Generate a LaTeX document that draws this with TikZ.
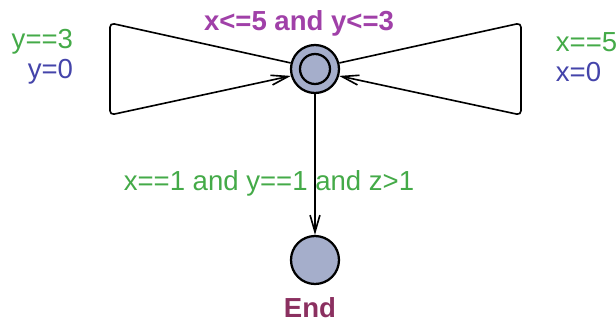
\documentclass[tikz,border=0pt]{standalone}
\usepackage{fontspec}
\setmainfont{Liberation Sans}
\usetikzlibrary{arrows.meta}
\definecolor{ink}{HTML}{000000}
\definecolor{guard}{HTML}{44AA48}
\definecolor{assign}{HTML}{4444AA}
\definecolor{inv}{HTML}{A040A8}
\definecolor{lname}{HTML}{8B3060}
\definecolor{loc}{HTML}{A5AECB}

\begin{document}
\begin{tikzpicture}[font=\fontsize{19.6}{22}\selectfont,>={Straight Barb[length=12pt,width=7pt]},
  location/.style={circle,draw=ink,line width=1.6pt,fill=loc,minimum size=1.2cm,inner sep=0pt},
  edge/.style={->,ink,line width=1.15pt,rounded corners=3pt}]
  \useasboundingbox (-7.875,1.725) rectangle (7.525,-6.35);
  % locations
  \node[location] (start) at (0,0) {};
  \draw[ink,line width=1.6pt] (start.center) circle (0.375);
  \node[location] (end) at (0,-4.775) {};
  \node[inv,font=\fontsize{19.6}{22}\selectfont\bfseries] (startinv) at (-0.4,1.15) {x<=5 and y<=3};
  \node[lname,font=\fontsize{19.6}{22}\selectfont\bfseries] (endname) at (-0.125,-5.975) {End};
  % self loops
  \coordinate (lt) at (-5.125,1.15);
  \coordinate (lb) at (-5.125,-1.15);
  \coordinate (rt) at (5.15,1.15);
  \coordinate (rb) at (5.15,-1.15);
  \draw[edge] (start.166) -- (lt) -- (lb) -- (start.196);
  \draw[edge] (start.14) -- (rt) -- (rb) -- (start.-16);
  \draw[edge] (start) -- (end);
  % labels
  \node[guard,anchor=east] (lguard) at (-5.925,0.675) {y==3};
  \node[assign,anchor=east] (lassign) at (-5.925,-0.075) {y=0};
  \node[guard,anchor=west] (rguard) at (5.9,0.675) {x==5};
  \node[assign,anchor=west] (rassign) at (5.9,-0.075) {x=0};
  \node[guard] (dguard) at (-1.15,-2.85) {x==1 and y==1 and z>1};
\end{tikzpicture}
\end{document}
